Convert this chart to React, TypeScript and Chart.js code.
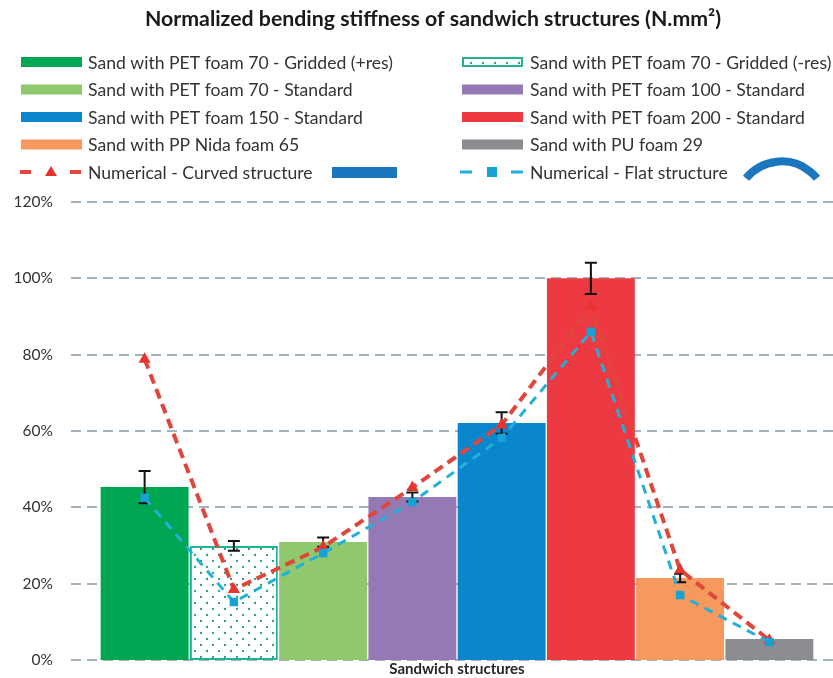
import { useEffect, useRef } from "react";
import { Chart, registerables } from "chart.js";

Chart.register(...registerables);

const chartTitle = "Normalized bending stiffness of sandwich structures (N.mm²)";
const axisTitle = "Sandwich structures";
const categories = [
  "Sand with PET foam 70 - Gridded (+res)",
  "Sand with PET foam 70 - Gridded (-res)",
  "Sand with PET foam 70 - Standard",
  "Sand with PET foam 100 - Standard",
  "Sand with PET foam 150 - Standard",
  "Sand with PET foam 200 - Standard",
  "Sand with PP Nida foam 65",
  "Sand with PU foam 29",
];
const stiffness = [45.3, 29.9, 30.9, 42.7, 62.1, 100, 21.5, 5.5];
const stiffnessError = [4.2, 1.3, 1.2, 1.2, 2.8, 4.1, 1.1, 0];
const curvedNumerical = [78.8, 18.5, 29.6, 45.2, 61.6, 92.5, 23.6, 5.2];
const flatNumerical = [42.5, 15.2, 28.0, 41.4, 58.2, 86.0, 17.0, 4.7];
const yTicks = [0, 20, 40, 60, 80, 100, 120];
const lineNames = ["Numerical - Curved structure", "Numerical - Flat structure"];

const barColors = ["#00a651", "PATTERN", "#90c86e", "#9479b5", "#0a86cc", "#ed3a42", "#f5995f", "#8a8c90"];
const patternBorder = "#22b295";
const curvedColor = "#e0473c";
const curvedPoint = "#e8342f";
const flatColor = "#22b0d8";
const flatPoint = "#17a2d6";
const iconBlue = "#1b75bf";
const FONT = "Lato, 'Open Sans', sans-serif";

function makePattern(ctx: CanvasRenderingContext2D) {
  const pc = document.createElement("canvas");
  pc.width = 12;
  pc.height = 12;
  const p = pc.getContext("2d")!;
  p.fillStyle = "#ffffff";
  p.fillRect(0, 0, 12, 12);
  p.fillStyle = "#2a9d7f";
  for (const [x, y] of [[3, 3], [9, 9]]) {
    p.beginPath();
    p.arc(x, y, 1.15, 0, Math.PI * 2);
    p.fill();
  }
  return ctx.createPattern(pc, "repeat")!;
}

export default function App() {
  const ref = useRef<HTMLCanvasElement>(null);

  useEffect(() => {
    document.body.style.margin = "0";
    const canvas = ref.current!;
    const ctx0 = canvas.getContext("2d")!;
    const pattern = makePattern(ctx0);
    const bg = barColors.map((c) => (c === "PATTERN" ? pattern : c));
    const borderCols = barColors.map((c) => (c === "PATTERN" ? patternBorder : "rgba(0,0,0,0)"));
    const borderW = barColors.map((c) => (c === "PATTERN" ? 2 : 0));

    const gridPlugin = {
      id: "dashGrid",
      beforeDatasetsDraw(chart: any) {
        const { ctx } = chart;
        const y = chart.scales.y;
        ctx.save();
        ctx.strokeStyle = "#a3b2bd";
        ctx.lineWidth = 2;
        ctx.setLineDash([10, 6]);
        for (const t of yTicks) {
          const py = Math.round(y.getPixelForValue(t));
          ctx.beginPath();
          ctx.moveTo(71, py);
          ctx.lineTo(chart.width, py);
          ctx.stroke();
        }
        ctx.restore();
      },
    };

    const errorPlugin = {
      id: "errorBars",
      afterDatasetDraw(chart: any, args: any) {
        if (args.index !== 0) return;
        const { ctx } = chart;
        const y = chart.scales.y;
        const meta = chart.getDatasetMeta(0);
        ctx.save();
        ctx.strokeStyle = "#111111";
        ctx.lineWidth = 2;
        meta.data.forEach((el: any, i: number) => {
          const e = stiffnessError[i];
          if (!e) return;
          const x = el.x;
          const top = y.getPixelForValue(stiffness[i] + e);
          const bot = y.getPixelForValue(stiffness[i] - e);
          ctx.beginPath();
          ctx.moveTo(x, top);
          ctx.lineTo(x, bot);
          ctx.moveTo(x - 6, top);
          ctx.lineTo(x + 6, top);
          ctx.moveTo(x - 6, bot);
          ctx.lineTo(x + 6, bot);
          ctx.stroke();
        });
        ctx.restore();
      },
    };

    const legendPlugin = {
      id: "customLegend",
      afterDraw(chart: any) {
        const { ctx } = chart;
        ctx.save();
        ctx.fillStyle = "#1a1a1a";
        ctx.font = `bold 21.3px ${FONT}`;
        ctx.textAlign = "center";
        ctx.textBaseline = "middle";
        ctx.fillText(chartTitle, 433, 19);

        ctx.font = `17.6px ${FONT}`;
        ctx.textAlign = "left";
        const cols = [
          { sx: 21, tx: 88 },
          { sx: 462, tx: 530 },
        ];
        for (let i = 0; i < categories.length; i++) {
          const col = cols[i % 2];
          const row = Math.floor(i / 2);
          const cy = 62 + row * 27.5;
          if (barColors[i] === "PATTERN") {
            ctx.fillStyle = pattern;
            ctx.fillRect(col.sx, cy - 5, 61, 10);
            ctx.strokeStyle = patternBorder;
            ctx.lineWidth = 2;
            ctx.strokeRect(col.sx + 1, cy - 4, 59, 8);
          } else {
            ctx.fillStyle = barColors[i];
            ctx.fillRect(col.sx, cy - 5, 61, 10);
          }
          ctx.fillStyle = "#333333";
          ctx.fillText(categories[i], col.tx, cy + 1);
        }
        const ly = 62 + 4 * 27.5;
        ctx.strokeStyle = curvedColor;
        ctx.lineWidth = 4;
        ctx.beginPath();
        ctx.moveTo(20, ly);
        ctx.lineTo(31, ly);
        ctx.moveTo(70, ly);
        ctx.lineTo(81, ly);
        ctx.stroke();
        ctx.fillStyle = curvedPoint;
        ctx.beginPath();
        ctx.moveTo(51, ly - 6);
        ctx.lineTo(57, ly + 4);
        ctx.lineTo(45, ly + 4);
        ctx.closePath();
        ctx.fill();
        ctx.fillStyle = "#333333";
        ctx.fillText(lineNames[0], 88, ly + 1);
        ctx.fillStyle = iconBlue;
        ctx.fillRect(332, ly - 5, 65, 11);
        ctx.strokeStyle = flatColor;
        ctx.lineWidth = 3;
        ctx.beginPath();
        ctx.moveTo(460, ly);
        ctx.lineTo(472, ly);
        ctx.moveTo(511, ly);
        ctx.lineTo(523, ly);
        ctx.stroke();
        ctx.fillStyle = flatPoint;
        ctx.fillRect(487, ly - 5, 10, 10);
        ctx.fillStyle = "#333333";
        ctx.fillText(lineNames[1], 530, ly + 1);
        ctx.strokeStyle = iconBlue;
        ctx.lineWidth = 8;
        ctx.beginPath();
        ctx.arc(781.5, 207, 45.6, Math.PI + 0.68, 2 * Math.PI - 0.68);
        ctx.stroke();
        ctx.restore();
      },
    };

    const chart = new Chart(canvas, {
      type: "bar",
      data: {
        labels: categories,
        datasets: [
          {
            type: "bar",
            label: "Bending stiffness",
            data: stiffness,
            backgroundColor: bg as any,
            borderColor: borderCols,
            borderWidth: borderW,
            borderSkipped: false,
            barPercentage: 0.985,
            categoryPercentage: 1,
            order: 3,
          } as any,
          {
            type: "line",
            label: lineNames[0],
            data: curvedNumerical,
            borderColor: curvedColor,
            borderWidth: 4,
            borderDash: [10, 6],
            pointStyle: "triangle",
            pointRadius: 7,
            pointBackgroundColor: curvedPoint,
            pointBorderColor: curvedPoint,
            pointBorderWidth: 0,
            order: 2,
          } as any,
          {
            type: "line",
            label: lineNames[1],
            data: flatNumerical,
            borderColor: flatColor,
            borderWidth: 3,
            borderDash: [9, 7],
            pointStyle: "rect",
            pointRadius: 6,
            pointBackgroundColor: flatPoint,
            pointBorderColor: flatPoint,
            pointBorderWidth: 0,
            order: 1,
          } as any,
        ],
      },
      options: {
        animation: false,
        responsive: true,
        maintainAspectRatio: false,
        layout: { padding: { top: 202, right: 19, bottom: 0, left: 0 } },
        plugins: {
          legend: { display: false },
          title: { display: false },
          tooltip: { enabled: false },
        },
        scales: {
          x: {
            afterFit: (s: any) => {
              s.height = 18;
            },
            grid: { display: false },
            border: { display: false },
            ticks: { display: false },
            title: {
              display: true,
              text: axisTitle,
              color: "#262626",
              font: { family: FONT, size: 15, weight: "bold" },
              padding: { top: 0, bottom: 0 },
            },
          },
          y: {
            min: 0,
            max: 120,
            afterFit: (s: any) => {
              s.width = 100;
              s.paddingTop = 9;
              s.paddingBottom = 9;
            },
            afterBuildTicks: (s: any) => {
              s.ticks = yTicks.map((v) => ({ value: v }));
            },
            grid: { display: false, drawTicks: false },
            border: { display: false },
            ticks: {
              padding: 47,
              color: "#333333",
              font: { family: FONT, size: 15.5 },
              callback: (v: any) => `${v}%`,
            },
          },
        },
      },
      plugins: [gridPlugin, errorPlugin, legendPlugin],
    });
    return () => chart.destroy();
  }, []);

  return (
    <div style={{ position: "relative", width: 833, height: 678 }}>
      <canvas ref={ref} />
    </div>
  );
}
